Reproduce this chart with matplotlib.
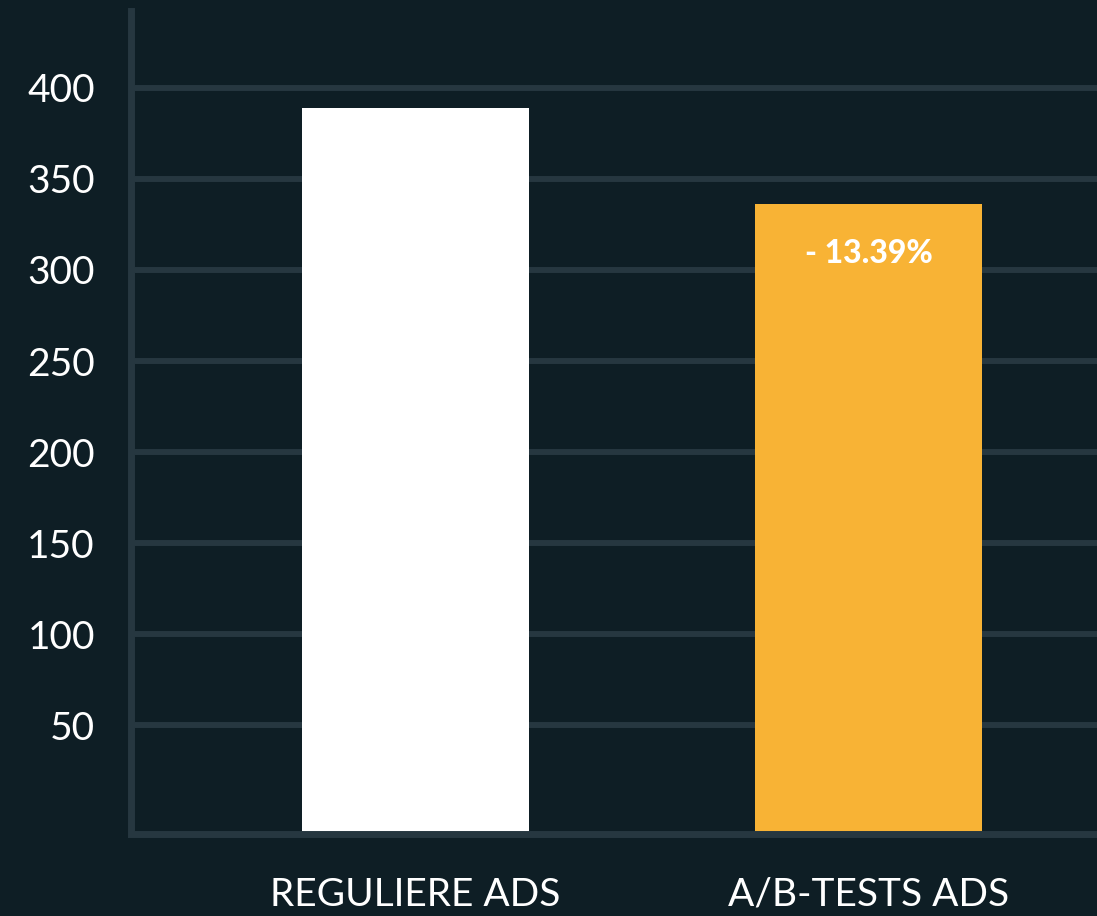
import numpy as np
import matplotlib
matplotlib.use("Agg")
import matplotlib.pyplot as plt

# Daten --------------------------------------------
categories = ["REGULIERE ADS", "A/B-TESTS ADS"]
values = [389, 336]
bar_colors = ["#ffffff", "#f8b335"]
yticks = [50, 100, 150, 200, 250, 300, 350, 400]
change_label = "- 13.39%"

bg = "#0e1e25"
grid_col = "#263740"

plt.rcParams["font.family"] = ["Lato", "DejaVu Sans"]

fig = plt.figure(figsize=(10.97, 9.16), dpi=100, facecolor=bg)
ax = fig.add_axes([131/1097, 82.5/916, 1 - 131/1097, (833.5 - 11)/916])
ax.set_facecolor(bg)

y0, y1 = -9.6, 442.3
x = np.arange(len(categories))

ax.bar(x, [v - y0 for v in values], bottom=y0, width=0.5, color=bar_colors, zorder=3)

ax.text(x[1], 309, change_label, ha="center", va="center", color="white",
        fontsize=23, fontweight="black", zorder=4)

ax.set_xlim(-0.627, 1.503)
ax.set_ylim(y0, y1)
ax.set_yticks(yticks)
ax.set_yticklabels([str(t) for t in yticks], fontsize=28, color="white")
ax.set_xticks(x)
ax.set_xticklabels(categories, fontsize=28, color="white")
ax.tick_params(axis="both", length=0)
ax.tick_params(axis="y", pad=26)
ax.tick_params(axis="x", pad=31)

ax.grid(axis="y", color=grid_col, linewidth=4.3, zorder=1)
ax.grid(axis="x", visible=False)

for s in ["top", "right"]:
    ax.spines[s].set_visible(False)
for s in ["left", "bottom"]:
    ax.spines[s].set_color(grid_col)
    ax.spines[s].set_linewidth(5)
    ax.spines[s].set_zorder(5)

fig.savefig("out.png", dpi=100, facecolor=bg)
